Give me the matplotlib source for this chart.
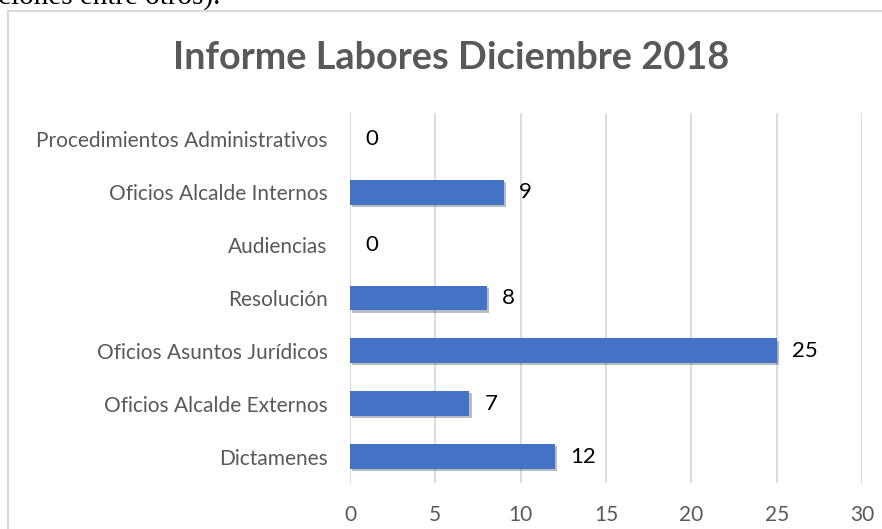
import matplotlib.pyplot as plt
import matplotlib.patheffects as pe
from matplotlib.patches import Rectangle

# data, bottom to top as drawn
categories = ['Dictamenes', 'Oficios Alcalde Externos', 'Oficios Asuntos Jurídicos',
              'Resolución', 'Audiencias', 'Oficios Alcalde Internos',
              'Procedimientos Administrativos']
values = [12, 7, 25, 8, 0, 9, 0]
xticks = [0, 5, 10, 15, 20, 25, 30]

plt.rcParams['font.family'] = ['Lato', 'DejaVu Sans']
W, H = 882, 529
fig = plt.figure(figsize=(W / 100, H / 100), dpi=100)

# bits of the surrounding document (line above is cut off by the crop)
fig.text(-2 / W, 1 - 4 / H, 'ciones entre otros).', family='Liberation Serif',
         fontsize=21, ha='left', va='baseline', color='black')
fig.patches.append(Rectangle((8 / W, -0.1), 1, 1.1 - 10.5 / H, transform=fig.transFigure,
                             fill=False, edgecolor='#D9D9D9', lw=1.5))

ax = fig.add_axes([350 / W, 1 - 483 / H, 512 / W, 370 / H])
y = range(len(categories))
ax.barh(y, values, height=0.47, color='#4472C4', zorder=3,
        path_effects=[pe.SimplePatchShadow(offset=(1.5, -1.5), alpha=0.3),
                      pe.Normal()])
for yi, v in zip(y, values):
    ax.text(v + 0.9, yi, str(v), va='center', ha='left', fontsize=16, color='black')

ax.set_xlim(0, 30)
ax.set_ylim(-0.5, len(categories) - 0.5)
ax.set_xticks(xticks)
ax.set_yticks(list(y))
ax.set_yticklabels(categories)
ax.grid(axis='x', color='#D9D9D9', lw=1.3, zorder=0)
for s in ax.spines.values():
    s.set_visible(False)
ax.axvline(0, color='#D9D9D9', lw=1.3, zorder=1)
ax.tick_params(length=0, labelsize=15, labelcolor='#595959')
ax.tick_params(axis='x', pad=16)
ax.tick_params(axis='y', pad=16)

fig.text(451 / W, 1 - 69 / H, 'Informe Labores Diciembre 2018', ha='center', va='baseline',
         fontsize=27.3, fontweight='bold', color='#595959')

fig.savefig('out.png', dpi=100)
